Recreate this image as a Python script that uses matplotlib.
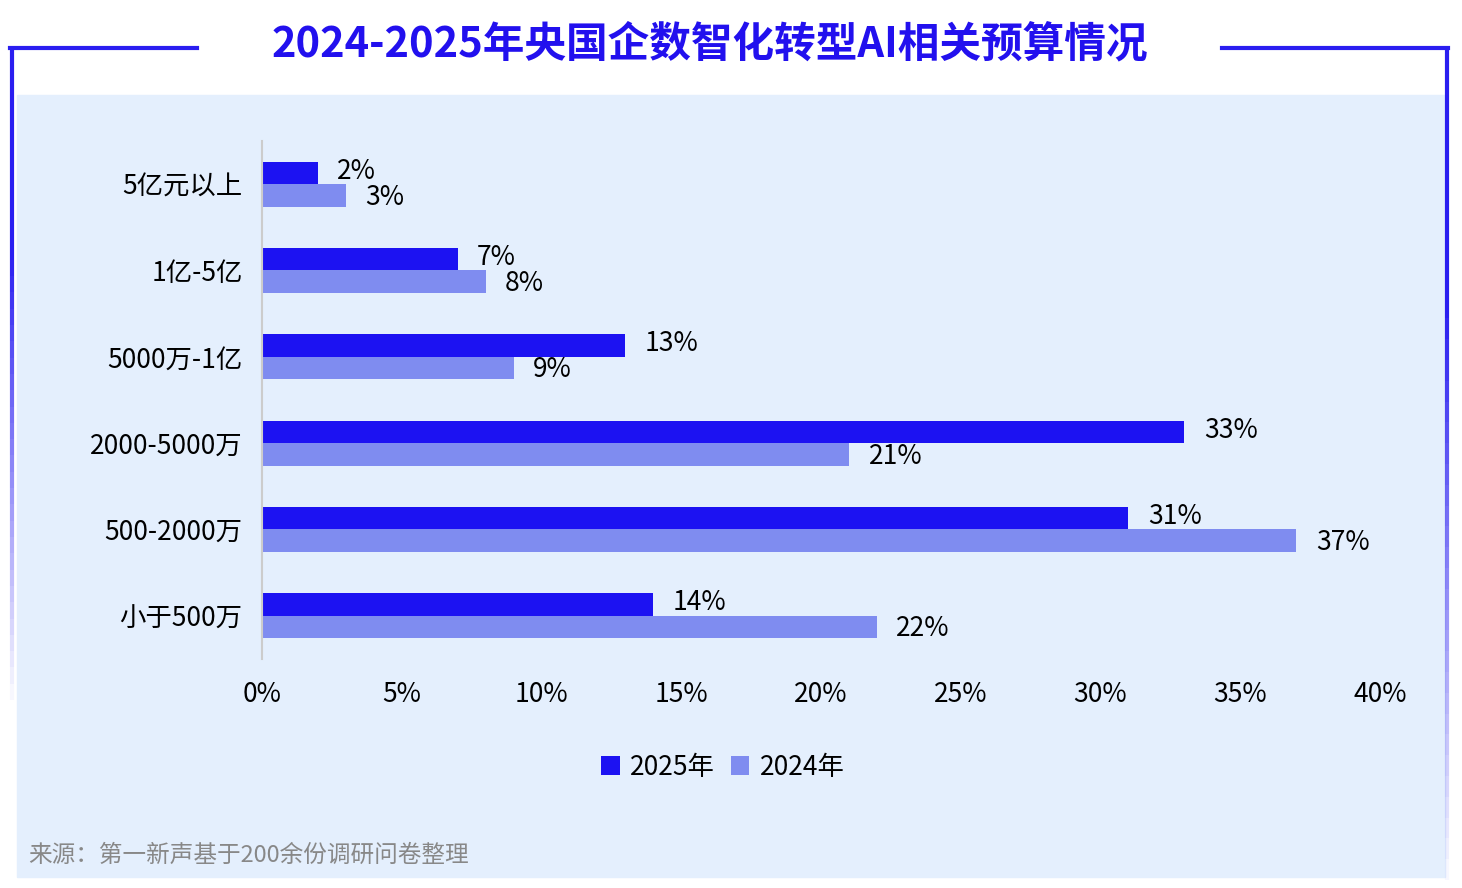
import matplotlib
matplotlib.use("Agg")
import matplotlib.pyplot as plt
from matplotlib.patches import Rectangle
from matplotlib.lines import Line2D
import numpy as np

plt.rcParams["font.family"] = ["Noto Sans CJK SC"]

categories = ["5亿元以上", "1亿-5亿", "5000万-1亿", "2000-5000万", "500-2000万", "小于500万"]
v2025 = [2, 7, 13, 33, 31, 14]
v2024 = [3, 8, 9, 21, 37, 22]
xticks = [0, 5, 10, 15, 20, 25, 30, 35, 40]
c25 = "#1c12f2"
c24 = "#7f8cf0"

fig = plt.figure(figsize=(14.62, 8.88), dpi=100)
W, H = 1462, 888
def fx(x): return x / W
def fy(y): return 1 - y / H

fig.add_artist(Rectangle((fx(17), fy(877)), fx(1445 - 17), (877 - 95) / H,
                         transform=fig.transFigure, color="#e4effd", zorder=-5))
for xs, ys in [([10, 197], [48, 48]), ([1222, 1448], [48, 48])]:
    fig.add_artist(Line2D([fx(x) for x in xs], [fy(y) for y in ys],
                          transform=fig.transFigure, color="#2a1ef0", lw=3, zorder=-4))
# fading vertical frame lines
for x, y0, y1 in [(12, 48, 700), (1447, 48, 880)]:
    n = 40
    ys = np.linspace(y0, y1, n + 1)
    for i in range(n):
        a = 1.0 if i < n * 0.3 else max(0.0, 1 - (i - n * 0.3) / (n * 0.7))
        fig.add_artist(Line2D([fx(x), fx(x)], [fy(ys[i]), fy(ys[i + 1])],
                              transform=fig.transFigure, color="#2a1ef0", lw=3,
                              alpha=a, zorder=-4, solid_capstyle="butt"))
fig.text(fx(710), fy(44), "2024-2025年央国企数智化转型AI相关预算情况", ha="center", va="center",
         fontsize=30, fontweight="bold", color="#2210ee")

ax = fig.add_axes([fx(262), fy(659), fx(1380 - 262), (659 - 141) / H])
ax.set_zorder(2)
ax.set_facecolor("none")
y = np.arange(len(categories))
h = 0.26
ax.barh(y - h / 2, v2025, height=h, color=c25, label="2025年")
ax.barh(y + h / 2, v2024, height=h, color=c24, label="2024年")
for yi, a, b in zip(y, v2025, v2024):
    ax.text(a + 0.7, yi - h / 2 - 0.02, f"{a}%", va="center", ha="left", fontsize=19)
    ax.text(b + 0.7, yi + h / 2 + 0.02, f"{b}%", va="center", ha="left", fontsize=19)
ax.set_ylim(len(categories) - 0.5, -0.5)
ax.set_xlim(0, 40)
ax.set_yticks(y)
ax.set_yticklabels(categories, fontsize=19)
ax.set_xticks(xticks)
ax.set_xticklabels([f"{t}%" for t in xticks], fontsize=19)
ax.tick_params(length=0, pad=14)
ax.tick_params(axis="x", pad=16)
for s in ["top", "right", "bottom"]:
    ax.spines[s].set_visible(False)
ax.spines["left"].set_color("#cccccc")
ax.spines["left"].set_linewidth(1.5)
ax.legend(loc="center", bbox_to_anchor=((723 - 262) / (1380 - 262), (659 - 767) / (659 - 141)),
          ncol=2, frameon=False, fontsize=19, handlelength=0.7, handleheight=0.7,
          columnspacing=0.6, handletextpad=0.4)
fig.text(fx(28), fy(855), "来源：第一新声基于200余份调研问卷整理", ha="left", va="center",
         fontsize=17, color="#888888")
fig.savefig("out.png", dpi=100)
